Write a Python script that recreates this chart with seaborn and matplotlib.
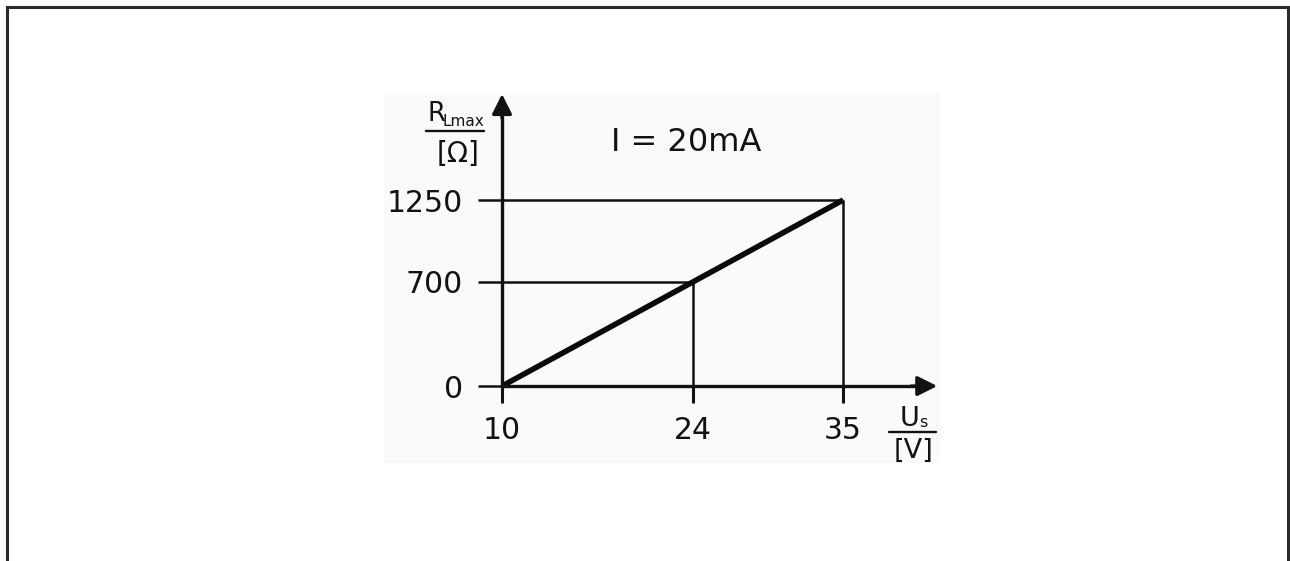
import matplotlib
matplotlib.use("Agg")
import matplotlib.pyplot as plt
from matplotlib.lines import Line2D
import seaborn as sns
import pandas as pd

# ---- data ----
us_values = [10, 24, 35]          # supply voltage U_s [V]
r_values = [0, 700, 1250]         # max load resistance R_Lmax [Ohm]
x_tick_labels = ["10", "24", "35"]
y_tick_labels = ["0", "700", "1250"]
annotation_text = "I = 20mA"
y_label_main, y_label_sub, y_label_unit = "R", "Lmax", "[Ω]"
x_label_main, x_label_sub, x_label_unit = "U", "s", "[V]"

sns.set_style("white")
plt.rcParams["font.family"] = ["DejaVu Sans"]

W, H = 1290, 561
fig = plt.figure(figsize=(W / 100, H / 100), dpi=100)
fig.patch.set_facecolor("white")

def fx(px):
    return px / W

def fy(py):
    return 1 - py / H

# axes covering the light panel
ax_l, ax_r, ax_t, ax_b = 384, 940, 93, 463
ax = fig.add_axes([fx(ax_l), fy(ax_b), (ax_r - ax_l) / W, (ax_b - ax_t) / H])
ax.set_facecolor("#fafafc")

INK = "#121212"
df = pd.DataFrame({"us": us_values, "r": r_values})

# scales
ax.set_xlim(1.35, 42.1)
ax.set_ylim(-517, 1969)

# guide lines
ax.hlines(r_values[1:], xmin=us_values[0], xmax=us_values[1:], color=INK, lw=1.8, zorder=2)
ax.vlines(us_values[1:], ymin=r_values[0], ymax=r_values[1:], color=INK, lw=1.8, zorder=2)

# main characteristic
sns.lineplot(data=df, x="us", y="r", ax=ax, color="#0a0a0a", lw=4.0, zorder=3,
             solid_capstyle="butt")

# axes through origin
for side in ["top", "right"]:
    ax.spines[side].set_visible(False)
ax.spines["left"].set_position(("data", us_values[0]))
ax.spines["bottom"].set_position(("data", r_values[0]))
ax.spines["left"].set_bounds(r_values[0], 1850)
ax.spines["bottom"].set_bounds(us_values[0], 40.5)
for side in ["left", "bottom"]:
    ax.spines[side].set_linewidth(2.4)
    ax.spines[side].set_color(INK)
    ax.spines[side].set_zorder(4)

ax.set_xticks(us_values)
ax.set_xticklabels(x_tick_labels)
ax.set_yticks(r_values)
ax.set_yticklabels(y_tick_labels)
ax.tick_params(axis="y", direction="out", length=17, width=1.8, pad=11,
               labelsize=21.5, colors=INK, left=True)
ax.tick_params(axis="x", direction="out", length=12.5, width=2.2, pad=9,
               labelsize=21.5, colors=INK, bottom=True)
ax.set_xlabel("")
ax.set_ylabel("")

# arrow heads
arrow_style = "-|>,head_length=0.6,head_width=0.3"
ax.annotate("", xy=(us_values[0], 1962), xytext=(us_values[0], 1800),
            arrowprops=dict(arrowstyle=arrow_style, mutation_scale=20, lw=2.4,
                            color=INK, shrinkA=0, shrinkB=0),
            annotation_clip=False)
ax.annotate("", xy=(41.9, r_values[0]), xytext=(40, r_values[0]),
            arrowprops=dict(arrowstyle=arrow_style, mutation_scale=20, lw=2.4,
                            color=INK, shrinkA=0, shrinkB=0),
            annotation_clip=False)

# annotation
fig.text(fx(686), fy(151), annotation_text, ha="center", va="baseline",
         fontsize=23, color=INK)

# y-axis label as a fraction
fig.text(fx(427), fy(121), y_label_main, ha="left", va="baseline", fontsize=18.5, color=INK)
fig.text(fx(443), fy(126), y_label_sub, ha="left", va="baseline", fontsize=11, color=INK)
fig.add_artist(Line2D([fx(426), fx(484)], [fy(131), fy(131)], color=INK, lw=1.7))
fig.text(fx(458), fy(162), y_label_unit, ha="center", va="baseline", fontsize=20, color=INK)

# x-axis label as a fraction
fig.text(fx(900), fy(426), x_label_main, ha="left", va="baseline", fontsize=19.5, color=INK)
fig.text(fx(919), fy(427), x_label_sub, ha="left", va="baseline", fontsize=11.5, color=INK)
fig.add_artist(Line2D([fx(889), fx(936)], [fy(432), fy(432)], color=INK, lw=1.7))
fig.text(fx(914), fy(458), x_label_unit, ha="center", va="baseline", fontsize=19.5, color=INK)

# outer frame (open at the bottom)
frame_c = "#2b2b2b"
fig.add_artist(Line2D([fx(7), fx(7)], [0, fy(7)], color=frame_c, lw=2.2))
fig.add_artist(Line2D([fx(7), fx(1288)], [fy(7), fy(7)], color=frame_c, lw=2.2,
                      solid_capstyle="projecting"))
fig.add_artist(Line2D([fx(1288), fx(1288)], [0, fy(7)], color=frame_c, lw=2.2))

fig.savefig("out.png", dpi=100, facecolor="white")
